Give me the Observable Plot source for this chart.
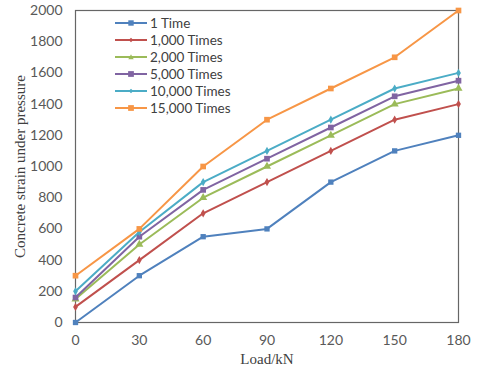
<!DOCTYPE html>
<html>
<head>
<meta charset="utf-8">
<script src="https://cdn.jsdelivr.net/npm/d3@7"></script>
<script src="https://cdn.jsdelivr.net/npm/@observablehq/plot@0.6"></script>
<style>
  html, body { margin: 0; padding: 0; background: #fff; }
  #wrap { position: relative; width: 480px; height: 381px; }
  #legend { position: absolute; left: 115px; top: 14px; font-family: Lato, "Open Sans", sans-serif; font-size: 13.5px; color: #404040; }
  .row { height: 17px; display: flex; align-items: center; }
  .row svg { margin-right: 3px; }
</style>
</head>
<body>
<div id="wrap"><div id="chart"></div><div id="legend"></div></div>
<script>
const loads = [0, 30, 60, 90, 120, 150, 180];
const seriesNames = ["1 Time", "1,000 Times", "2,000 Times", "5,000 Times", "10,000 Times", "15,000 Times"];
const s1 = [0, 300, 550, 600, 900, 1100, 1200];
const s1000 = [100, 400, 700, 900, 1100, 1300, 1400];
const s2000 = [150, 500, 800, 1000, 1200, 1400, 1500];
const s5000 = [160, 550, 850, 1050, 1250, 1450, 1550];
const s10000 = [200, 580, 900, 1100, 1300, 1500, 1600];
const s15000 = [300, 600, 1000, 1300, 1500, 1700, 2000];
const yTicks = [0, 200, 400, 600, 800, 1000, 1200, 1400, 1600, 1800, 2000];
const xTitle = "Load/kN";
const yTitle = "Concrete strain under pressure";

const colors = ["#4F81BD", "#C0504D", "#9BBB59", "#8064A2", "#4BACC6", "#F79646"];
const symbols = ["square", "diamond", "triangle", "square", "diamond", "square"];
const radii = [3, 2.5, 3, 3.2, 2.5, 3.2];
const allSeries = [s1, s1000, s2000, s5000, s10000, s15000];

const data = [];
allSeries.forEach((vals, i) => vals.forEach((v, j) => data.push({series: seriesNames[i], load: loads[j], strain: v})));

const tickFont = "Lato, sans-serif";
const titleFont = "Liberation Serif, Times New Roman, serif";
const marks = [
  Plot.frame({stroke: "#666", strokeWidth: 1.2}),
  Plot.axisY({ticks: yTicks, tickFormat: d => String(d), tickSize: 0, tickPadding: 13, fontSize: 14, fontFamily: tickFont, fill: "#595959", label: null}),
  Plot.axisX({ticks: loads, tickFormat: d => String(d), tickSize: 0, tickPadding: 13, fontSize: 14, fontFamily: tickFont, fill: "#595959", label: null}),
  Plot.text([yTitle], {text: d => d, frameAnchor: "left", textAnchor: "middle", rotate: -90, dx: -55, fontSize: 15, fontFamily: titleFont, fill: "#404040"}),
  Plot.text([xTitle], {text: d => d, frameAnchor: "bottom", dy: 41, fontSize: 15, fontFamily: titleFont, fill: "#404040"})
];
seriesNames.forEach((name, i) => {
  const d = data.filter(r => r.series === name);
  marks.push(Plot.line(d, {x: "load", y: "strain", stroke: colors[i], strokeWidth: 2}));
  marks.push(Plot.dot(d, {x: "load", y: "strain", fill: colors[i], symbol: () => symbols[i], r: radii[i]}));
});

const chart = Plot.plot({
  width: 480, height: 381,
  marginLeft: 75, marginRight: 22, marginTop: 10, marginBottom: 59,
  style: {color: "#404040", background: "#fff"},
  x: {domain: [0, 180]},
  y: {domain: [0, 2000]},
  marks
});
document.getElementById("chart").appendChild(chart);

const legend = document.getElementById("legend");
const symPaths = {
  square: r => `<rect x="${16 - r}" y="${5 - r}" width="${2*r}" height="${2*r}"/>`,
  diamond: r => `<polygon points="16,${5-r} ${16+r},5 16,${5+r} ${16-r},5"/>`,
  triangle: r => `<polygon points="16,${5-r} ${16+r},${5+r*0.8} ${16-r},${5+r*0.8}"/>`
};
seriesNames.forEach((name, i) => {
  const row = document.createElement("div");
  row.className = "row";
  row.innerHTML = `<svg width="32" height="10"><line x1="0" x2="32" y1="5" y2="5" stroke="${colors[i]}" stroke-width="2"/><g fill="${colors[i]}">${symPaths[symbols[i]](radii[i] * 0.9)}</g></svg><span>${name}</span>`;
  legend.appendChild(row);
});
</script>
</body>
</html>
